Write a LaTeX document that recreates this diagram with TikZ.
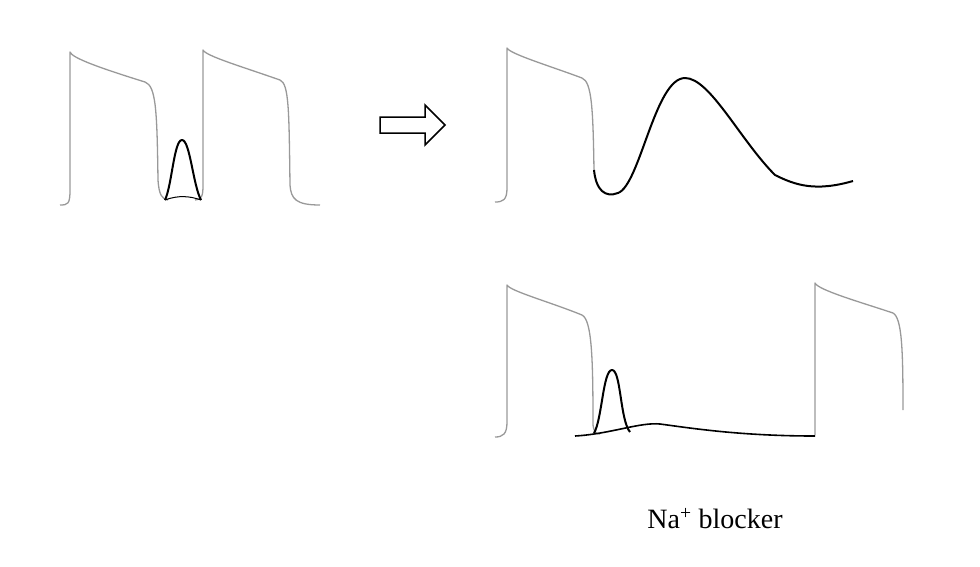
\documentclass[tikz,border=0pt]{standalone}
\usepackage{fontspec}
\setmainfont{Liberation Serif}
\begin{document}
\begin{tikzpicture}[x=1pt,y=-1pt,
  ap/.style={draw=gray!80,line width=1.3pt,line join=round},
  blk/.style={draw=black,line width=2pt,line join=round}]
\useasboundingbox (0,0) rectangle (980,566);
% left panel
\draw[ap] (60,205) .. controls (68,205) and (70,204) .. (70,190) -- (70,52)
  .. controls (72,58) and (100,68) .. (145,82)
  .. controls (156,86) and (157,110) .. (158,180)
  .. controls (159,195) and (162,199) .. (168,200);
\draw[ap] (195,200) .. controls (202,199) and (203,196) .. (203,185) -- (203,50)
  .. controls (206,56) and (240,66) .. (280,80)
  .. controls (289,84) and (289,110) .. (290,185)
  .. controls (291,199) and (296,205) .. (320,205);
\draw[blk] (165,200) .. controls (172,185) and (174,140) .. (182,140)
  .. controls (190,140) and (193,185) .. (201,200);
\draw[black,line width=1pt] (165,200) .. controls (178,195) and (190,196) .. (201,200);
% arrow
\draw[black,line width=1.5pt,fill=white] (380,117) -- (425,117) -- (425,105) -- (445,125)
  -- (425,145) -- (425,133) -- (380,133) -- cycle;
% top right
\draw[ap] (495,202) .. controls (503,202) and (507,200) .. (507,188) -- (507,48)
  .. controls (510,54) and (550,66) .. (582,78)
  .. controls (592,82) and (593,110) .. (594,170);
\draw[blk] (594,170) .. controls (596,190) and (605,198) .. (618,193)
  .. controls (640,185) and (655,78) .. (685,78)
  .. controls (710,78) and (740,140) .. (775,175)
  .. controls (795,185) and (815,192) .. (853,181);
% bottom right
\draw[ap] (495,437) .. controls (503,437) and (507,434) .. (507,422) -- (507,285)
  .. controls (510,291) and (550,302) .. (582,315)
  .. controls (592,320) and (593,360) .. (593,425)
  .. controls (594,432) and (596,434) .. (600,434);
\draw[ap] (815,435) -- (815,283)
  .. controls (818,290) and (860,302) .. (893,313)
  .. controls (902,318) and (903,350) .. (903,410);
\draw[blk] (594,433) .. controls (602,420) and (603,370) .. (612,370)
  .. controls (621,370) and (620,420) .. (630,432);
\draw[black,line width=1.6pt] (575,436) .. controls (610,434) and (640,422) .. (660,424)
  .. controls (690,428) and (740,436) .. (815,436);
\node (lbl) at (715,519) {\fontsize{28}{32}\selectfont Na\textsuperscript{+} blocker};
\end{tikzpicture}
\end{document}
